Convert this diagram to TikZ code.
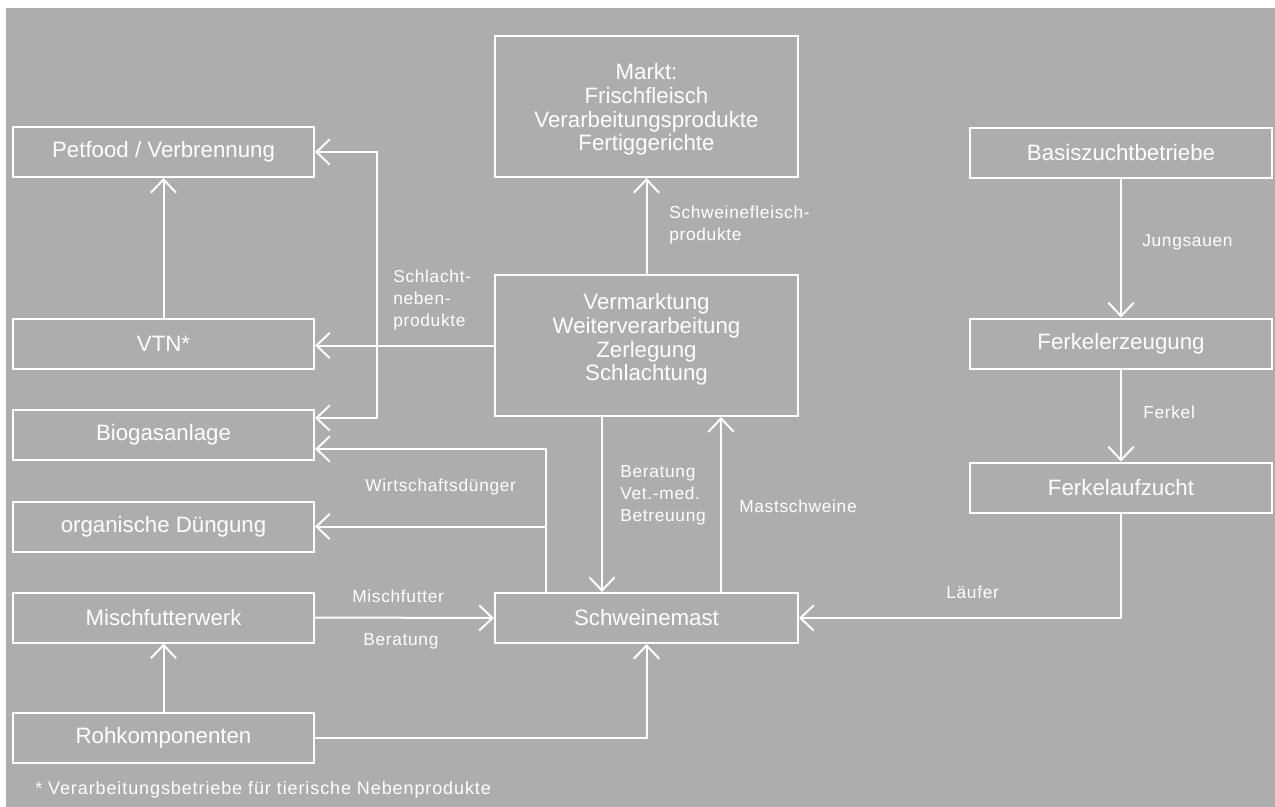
\documentclass[tikz,border=0pt]{standalone}
\usepackage{fontspec}
\setmainfont{Liberation Sans}
\newfontfamily\lblfont[LetterSpace=4]{Liberation Sans}
\newfontfamily\footfont[LetterSpace=5]{Liberation Sans}
\usetikzlibrary{arrows.meta}
\definecolor{bg}{RGB}{173,173,173}
\begin{document}
\begin{tikzpicture}[x=0.75pt,y=-0.75pt,
  box/.style={draw=white, line width=1.5pt, text=white, align=center, inner sep=0pt,
    font=\fontsize{16.7}{17.8}\selectfont},
  lbox/.style={box, minimum width=225.75pt, minimum height=37.5pt},
  rbox/.style={box, minimum width=226.5pt, minimum height=37.5pt},
  cbox/.style={box, minimum width=227.25pt},
  lbl/.style={text=white, align=left, inner sep=0pt, anchor=west,
    font=\lblfont\fontsize{13}{16.5}\selectfont},
  conn/.style={draw=white, line width=1.5pt, -{Straight Barb[length=10pt,width=19pt]}}]
\useasboundingbox (0,0) rectangle (1275,807);
\fill[white] (0,0) rectangle (1275,807);
\fill[bg] (6,8) rectangle (1275,807);

% left column
\node[lbox] (pet)  at (163.5,152)   {Petfood / Verbrennung};
\node[lbox] (vtn)  at (163.5,343.5) {VTN*};
\node[lbox] (bio)  at (163.5,435)   {Biogasanlage};
\node[lbox] (org)  at (163.5,526.5) {organische Düngung};
\node[lbox] (misch) at (163.5,617.5) {Mischfutterwerk};
\node[lbox] (roh)  at (163.5,738)   {Rohkomponenten};

% centre column
\node[cbox, minimum height=105.75pt] (markt) at (646.5,106.5)
  {\rule{0pt}{16.5pt}Markt:\\Frischfleisch\\Verarbeitungsprodukte\\Fertiggerichte};
\node[cbox, minimum height=105.75pt] (verm) at (646.5,345.5)
  {Vermarktung\\Weiterverarbeitung\\Zerlegung\\Schlachtung\rule[-12.5pt]{0pt}{0pt}};
\node[cbox, minimum height=37.5pt] (mast) at (646.5,618) {Schweinemast};

% right column
\node[rbox] (basis) at (1121,153)   {Basiszuchtbetriebe};
\node[rbox] (ferkz) at (1121,343.5) {Ferkelerzeugung};
\node[rbox] (ferka) at (1121,487.5) {Ferkelaufzucht};

% connectors
\draw[conn] (basis.south) -- (ferkz.north);
\draw[conn] (ferkz.south) -- (ferka.north);
\draw[conn] (ferka.south) |- (mast.east);
\draw[conn] (misch.east) -- (mast.west);
\draw[conn] (roh.north) -- (misch.south);
\draw[conn] (roh.east) -| (mast.south);
\draw[conn] ([xshift=-33.4pt]verm.south) -- ([xshift=-33.4pt]mast.north);
\draw[conn] ([xshift=55.9pt]mast.north) -- ([xshift=55.9pt]verm.south);
\draw[conn] (verm.north) -- (markt.south);
\draw[conn] (verm.west) -- (verm.west -| vtn.east);
\coordinate (snp) at (377,346);
\draw[conn] (snp) |- (pet.east);
\draw[conn] (snp) |- ([yshift=12.75pt]bio.east);
\draw[conn] ([xshift=-75.4pt]mast.north) |- ([yshift=-10.5pt]bio.east);
\draw[conn] ([xshift=-75.4pt]mast.north) |- (org.east);
\draw[conn] (vtn.north) -- (pet.south);

% labels
\node[lbl] (lsfp) at (669,225.5) {Schweinefleisch-\\produkte};
\node[lbl] (lsnp) at (393,300) {Schlacht-\\neben-\\produkte};
\node[lbl] (ljung) at (1142,242) {Jungsauen};
\node[lbl] (lferk) at (1143,412) {Ferkel};
\node[lbl] (llauf) at (946,592) {Läufer};
\node[lbl] (lmisch) at (352,596) {Mischfutter};
\node[lbl] (lber) at (363,641) {Beratung};
\node[lbl] (lwd) at (365,487) {Wirtschaftsdünger};
\node[lbl] (lvet) at (620,495) {Beratung\\Vet.-med.\\Betreuung};
\node[lbl] (lmast) at (739,506) {Mastschweine};
\node[lbl, font=\footfont\fontsize{13.5}{16}\selectfont] (lfoot) at (35,790)
  {* Verarbeitungsbetriebe für tierische Nebenprodukte};
\end{tikzpicture}
\end{document}
